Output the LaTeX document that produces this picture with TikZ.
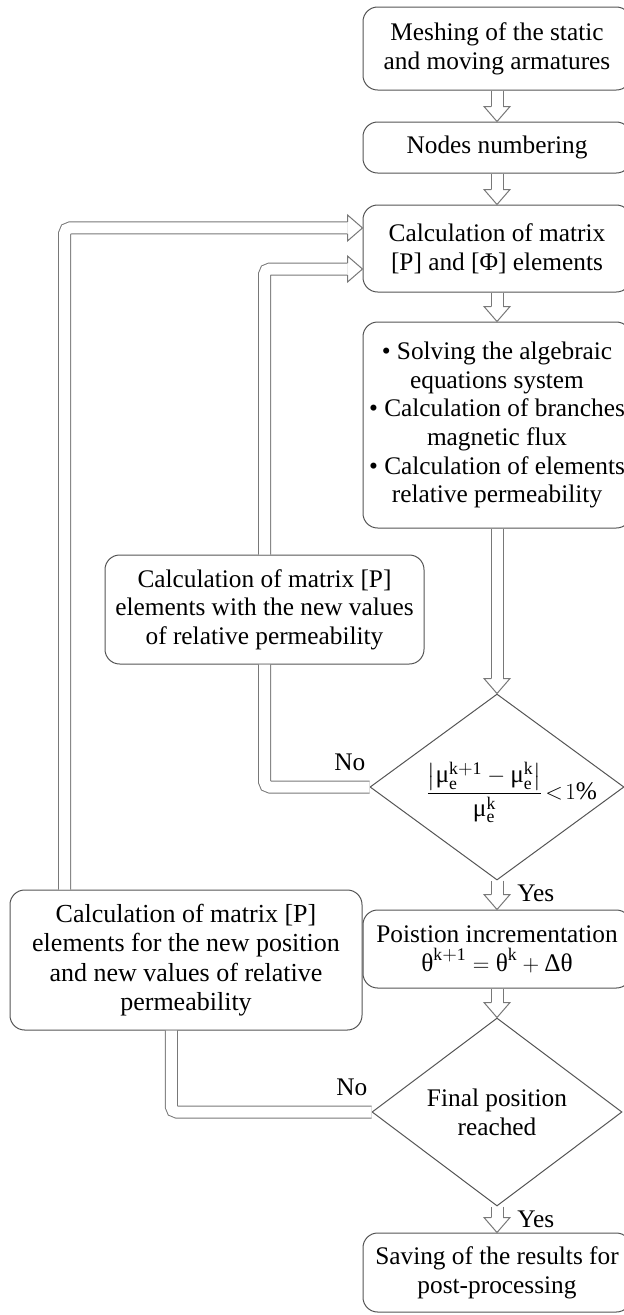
\documentclass[tikz,border=0pt]{standalone}
\usepackage{amsmath}
\usepackage{fontspec}
\setmainfont{Liberation Serif}
\usetikzlibrary{calc,shapes.geometric}

\definecolor{boxc}{RGB}{85,85,85}
\definecolor{arrc}{RGB}{120,120,120}

% hollow arrow heads, tip at #1
\newcommand{\hdown}[1]{\draw[head] ($#1+(-4.5pt,11.25pt)$) -- ++(-5.25pt,0) -- #1 -- ($#1+(9.75pt,11.25pt)$) -- ++(-5.25pt,0);}
\newcommand{\hright}[1]{\draw[head] ($#1+(-11.25pt,4.5pt)$) -- ++(0,5.25pt) -- #1 -- ($#1+(-11.25pt,-9.75pt)$) -- ++(0,5.25pt);}

\begin{document}
\begin{tikzpicture}[
  x=0.75pt, y=-0.75pt,
  box/.style={draw=boxc,line width=0.75pt,rounded corners=11pt,align=center,inner sep=3pt,minimum width=201pt,font=\fontsize{19pt}{21.5pt}\selectfont},
  decision/.style={draw=boxc,line width=0.75pt,diamond,inner sep=0pt},
  lbl/.style={inner sep=0pt,font=\fontsize{19pt}{21.5pt}\selectfont},
  dbl/.style={draw=arrc,line width=0.75pt,double=white,double distance=8.25pt},
  head/.style={draw=arrc,line width=0.75pt,fill=white,line join=miter}
]
  \clip (0,0) rectangle (624,1315);

  % main column
  \node[box,minimum height=62.25pt] (mesh) at (497,48.5) {Meshing of the static\\and moving armatures};
  \node[box,minimum height=38.25pt] (numb) at (497,147.5) {Nodes numbering};
  \node[box,minimum height=65.25pt] (calc) at (497,248.5) {Calculation of matrix\\{}[P] and [Φ] elements};
  \node[box,minimum height=154.5pt] (solve) at (497,425) {\textbullet{} Solving the algebraic\\equations system\\\textbullet{} Calculation of branches\\magnetic flux\\\textbullet{} Calculation of elements\\relative permeability};
  \node[decision,minimum width=190.5pt,minimum height=139.5pt,
    label={[lbl,xshift=11pt,yshift=-4pt]center:{$\dfrac{\left|\text{μ}_{\mathrm{e}}^{\mathrm{k+1}}-\text{μ}_{\mathrm{e}}^{\mathrm{k}}\right|}{\text{μ}_{\mathrm{e}}^{\mathrm{k}}}\!<\!1\%$}}] (cond1) at (497,787) {};
  \node[box,minimum height=58.5pt] (incr) at (497,949) {Poistion incrementation\\$\text{θ}^{\mathrm{k+1}}=\text{θ}^{\mathrm{k}}+\text{Δθ}$};
  \node[decision,minimum width=187.5pt,minimum height=141pt,
    label={[lbl,align=center]center:{Final position\\reached}}] (cond2) at (497,1112) {};
  \node[box,minimum height=59.25pt] (save) at (497,1272.5) {Saving of the results for\\post-processing};

  % side boxes
  \node[box,minimum width=239.25pt,minimum height=81.75pt] (newperm) at (264.5,609.5) {Calculation of matrix [P]\\elements with the new values\\of relative permeability};
  \node[box,minimum width=264pt,minimum height=105pt,font=\fontsize{19.5pt}{22pt}\selectfont] (newpos) at (186,960) {Calculation of matrix [P]\\elements for the new position\\and new values of relative\\permeability};

  % straight flow
  \foreach \a/\b in {mesh/numb,numb/calc,calc/solve,solve/cond1,cond1/incr,incr/cond2,cond2/save}{
    \draw[dbl] (\a.south) -- ($(\b.north)+(0,11.25pt)$);
    \hdown{(\b.north)}
  }

  % loops back
  \coordinate (tipA) at ($(calc.west)+(0,15.4pt)$);
  \coordinate (tipB) at ($(calc.west)+(0,-15.4pt)$);
  \draw[dbl,rounded corners=4pt] ([xshift=-91pt]newpos.north) |- ($(tipA)+(-11.25pt,0)$);
  \hright{(tipA)}
  \draw[dbl,rounded corners=4pt] (newperm.north) |- ($(tipB)+(-11.25pt,0)$);
  \hright{(tipB)}
  \draw[dbl,rounded corners=4pt] (cond1.west) -| (newperm.south);
  \draw[dbl,rounded corners=4pt] (cond2.west) -| ([xshift=-11pt]newpos.south);

  \node[lbl,anchor=south east] (no1) at ($(cond1.west)+(-3pt,12pt)$) {No};
  \node[lbl,anchor=south east] (no2) at ($(cond2.west)+(-3pt,12pt)$) {No};
  \node[lbl,anchor=west] (yes1) at ($(cond1.south)+(15pt,-9.75pt)$) {Yes};
  \node[lbl,anchor=west] (yes2) at ($(cond2.south)+(15pt,-9.75pt)$) {Yes};
\end{tikzpicture}
\end{document}
